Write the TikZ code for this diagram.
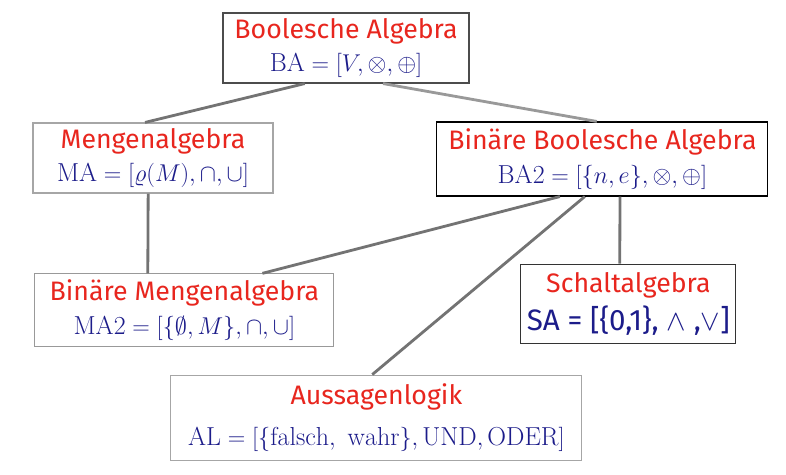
\documentclass[tikz,border=0pt]{standalone}
\usepackage{amssymb}
\usepackage{fontspec}
\setsansfont{Fira Sans}
\usetikzlibrary{calc}
\definecolor{titel}{HTML}{E8261E}
\definecolor{formel}{HTML}{1C1C8A}
\newcommand{\titel}[1]{{\sffamily\fontsize{19}{24}\selectfont\color{titel}#1}}
\newcommand{\formel}[1]{{\fontsize{18.5}{24}\selectfont\color{formel}#1}}
\tikzset{
  box/.style={draw, fill=white, align=center, inner sep=2pt, line width=0.8pt,
    font=\fontsize{19}{24}\selectfont},
  kante/.style={draw=black!55, line width=2pt}
}
\begin{document}
\begin{tikzpicture}
    \useasboundingbox (0,0) rectangle (19.65,11.85);

    % Dibuja las cajas
    \node[box, draw=black!70, minimum width=6.15cm, minimum height=1.75cm] (ba) at (8.65,10.65)
        {\titel{Boolesche Algebra}\\ \formel{$\mathrm{BA}=[V,\otimes,\oplus]$}};
    \node[box, draw=black!35, minimum width=6cm, minimum height=1.75cm] (ma) at (3.825,7.9)
        {\titel{Mengenalgebra}\\ \formel{$\mathrm{MA}=[\varrho(M),\cap,\cup]$}};
    \node[box, draw=black, minimum width=8.275cm, minimum height=1.85cm] (ba2) at (15.06,7.875)
        {\titel{Binäre Boolesche Algebra}\\ \formel{$\mathrm{BA2}=[\{n,e\},\otimes,\oplus]$}};
    \node[box, draw=black!40, minimum width=7.475cm, minimum height=1.825cm] (ma2) at (4.61,4.09)
        {\titel{Binäre Mengenalgebra}\\ \formel{$\mathrm{MA2}=[\{\emptyset,M\},\cap,\cup]$}};
    \node[box, draw=black!80, minimum width=5.375cm, minimum height=1.975cm] (sa) at (15.71,4.26)
        {\titel{Schaltalgebra}\\[3pt] {\fontsize{21}{24}\selectfont\color{formel}\sffamily SA = [\{0,1\}, $\wedge$ ,$\vee$]}};
    \node[box, draw=black!35, minimum width=10.275cm, minimum height=2.125cm] (al) at (9.41,1.41)
        {\titel{Aussagenlogik}\\[5pt] \formel{$\mathrm{AL}=[\{\mathrm{falsch,\ wahr}\},\mathrm{UND},\mathrm{ODER}]$}};

    % Dibuja las aristas
    \draw[kante] ($(ba.south west)!0.333!(ba.south east)$) -- ($(ma.north west)!0.467!(ma.north east)$);
    \draw[kante, draw=black!40] ($(ba.south west)!0.65!(ba.south east)$) -- ($(ba2.north west)!0.483!(ba2.north east)$);
    \draw[kante] ($(ma.south west)!0.48!(ma.south east)$) -- ($(ma2.north west)!0.378!(ma2.north east)$);
    \draw[kante] ($(ba2.south west)!0.372!(ba2.south east)$) -- ($(ma2.north west)!0.76!(ma2.north east)$);
    \draw[kante] ($(ba2.south west)!0.447!(ba2.south east)$) -- ($(al.north west)!0.49!(al.north east)$);
    \draw[kante] ($(ba2.south west)!0.553!(ba2.south east)$) -- ($(sa.north west)!0.46!(sa.north east)$);
\end{tikzpicture}
\end{document}
